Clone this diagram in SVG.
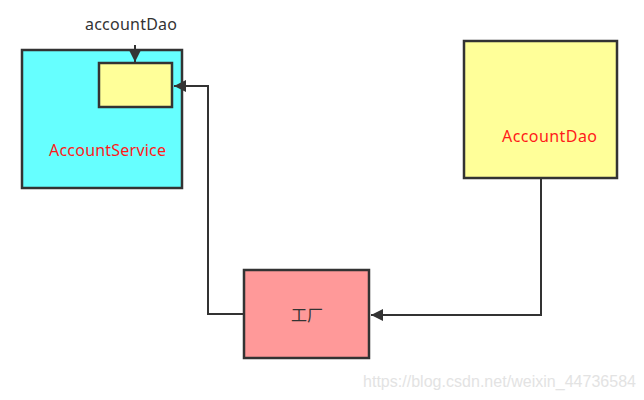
<svg xmlns="http://www.w3.org/2000/svg" width="644" height="400" viewBox="0 0 644 400">
<style>
.box{stroke:#333333;stroke-width:2.5}
.lbl{font-family:"Noto Sans","Liberation Sans","Noto Sans CJK SC",sans-serif;font-size:16px}
.red{fill:#ff1a1a}
.dark{fill:#333333}
.conn{fill:none;stroke:#333333;stroke-width:2}
</style>
<defs>
<marker id="arr" viewBox="0 0 10 10" refX="10" refY="5" markerWidth="7" markerHeight="6" orient="auto" markerUnits="strokeWidth">
<path d="M0,0 L10,5 L0,10 z" fill="#333333"/>
</marker>
</defs>
<rect width="644" height="400" fill="#ffffff"/>
<g id="accountService">
<rect class="box" x="22" y="50" width="160" height="138" fill="#66ffff"/>
<text class="lbl red" x="49" y="156" font-size="16.5" textLength="117">AccountService</text>
</g>
<g id="accountDaoField">
<rect class="box" x="99" y="63" width="73" height="44" fill="#ffff99"/>
</g>
<g id="accountDaoLabel">
<text class="lbl dark" x="85" y="30" textLength="92">accountDao</text>
</g>
<g id="accountDao">
<rect class="box" x="464" y="41" width="153" height="137" fill="#ffff99"/>
<text class="lbl red" x="502" y="142" textLength="95">AccountDao</text>
</g>
<g id="factory">
<rect class="box" x="244" y="270" width="125" height="88" fill="#ff9999"/>
<text class="lbl dark" x="307" y="321" text-anchor="middle" font-size="14">工厂</text>
</g>
<g id="connectors">
<path class="conn" d="M135,45 L135,62" marker-end="url(#arr)"/>
<path class="conn" d="M244,314 L208,314 L208,86 L174,86" marker-end="url(#arr)"/>
<path class="conn" d="M541,179 L541,315 L371,315" marker-end="url(#arr)"/>
</g>
<text x="363" y="387" font-family="Liberation Sans, sans-serif" font-size="16" textLength="273" fill="#e3e3e3">https://blog.csdn.net/weixin_44736584</text>
</svg>
